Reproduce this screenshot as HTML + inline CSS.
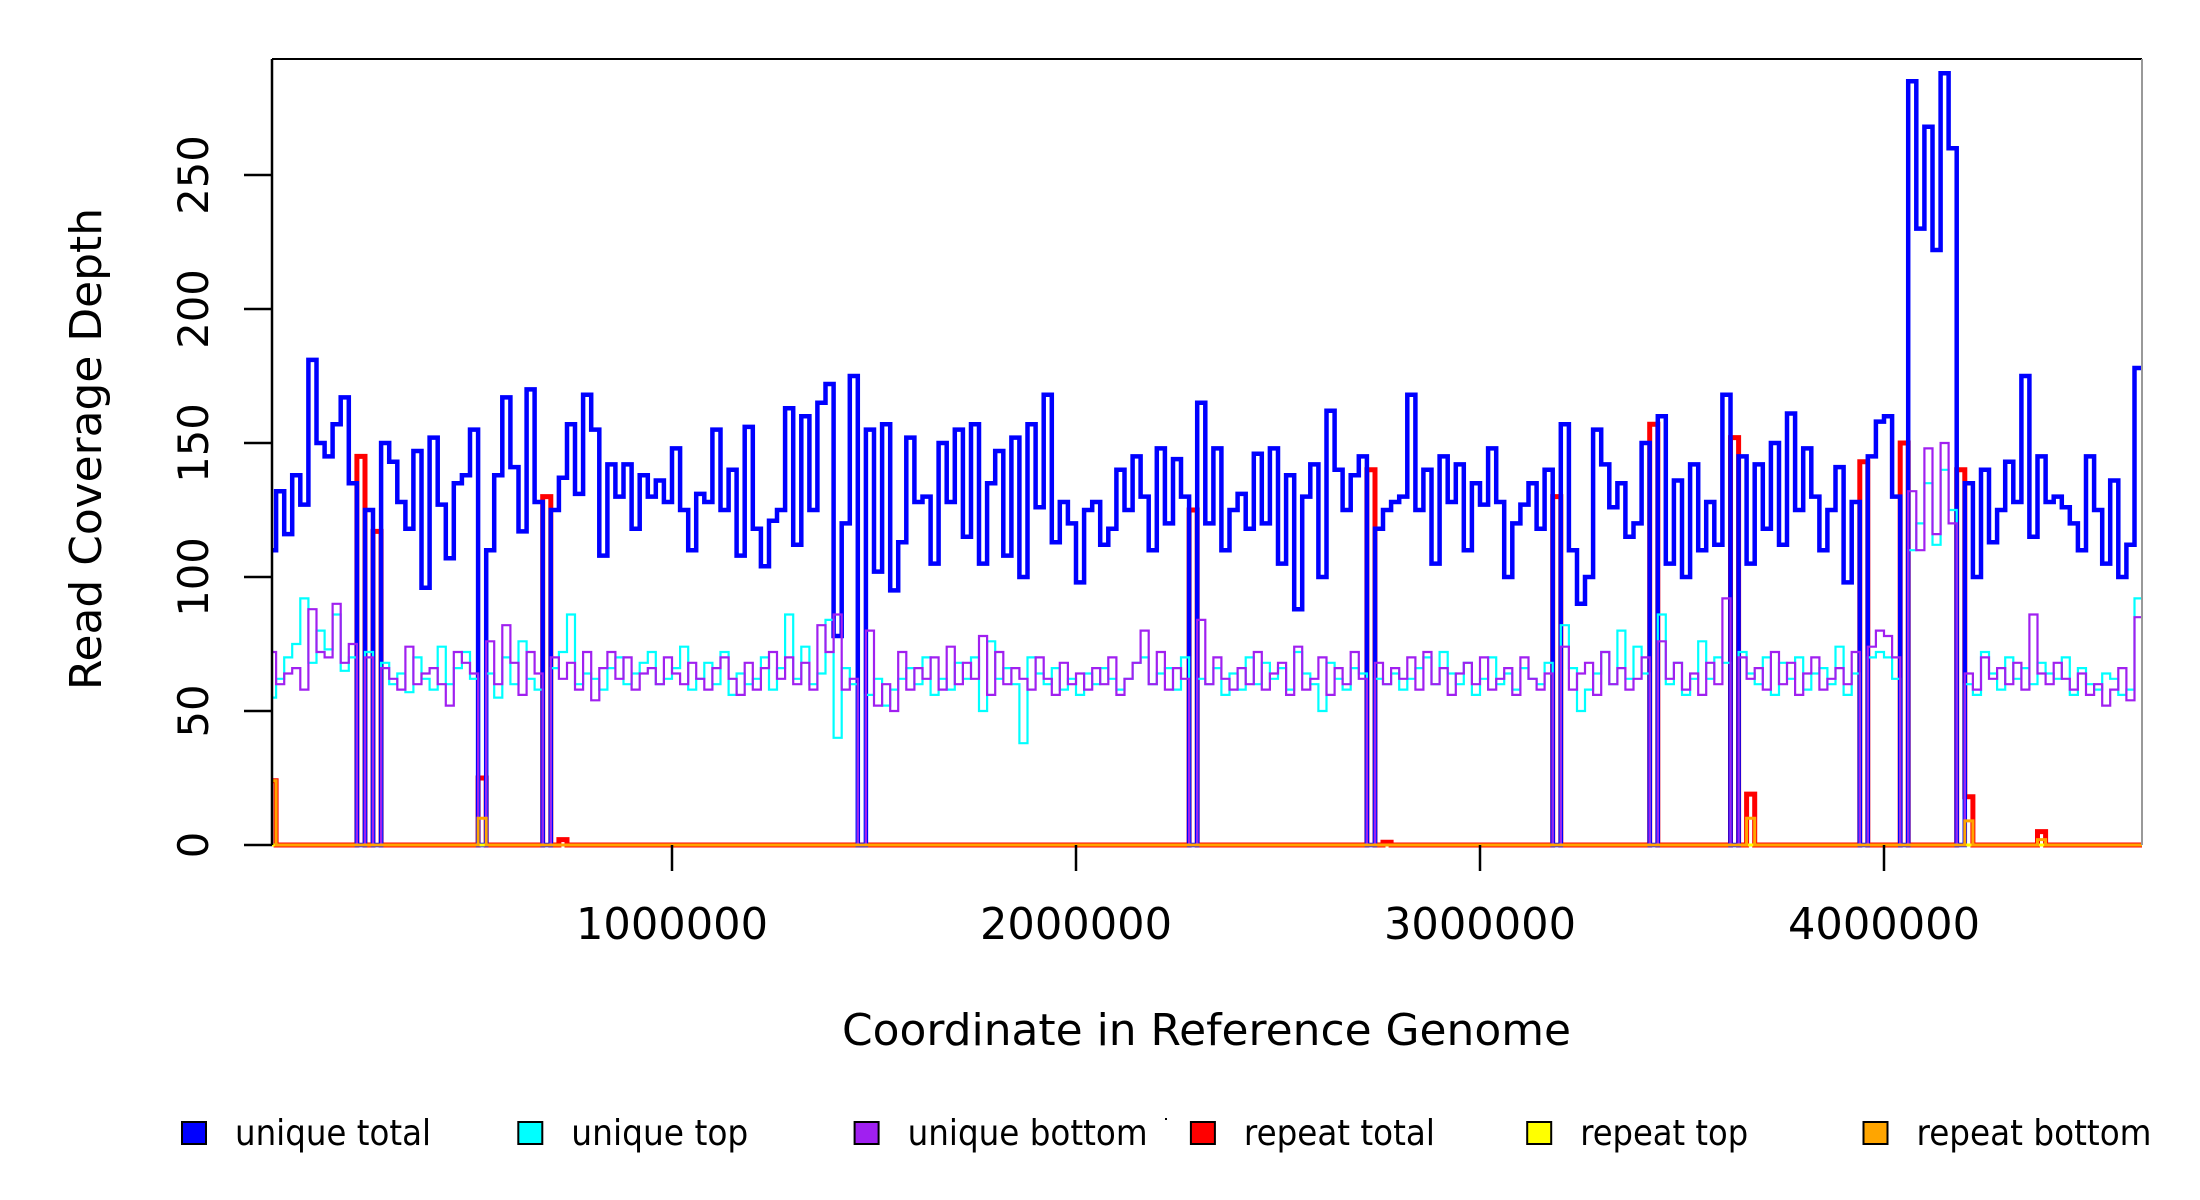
<!DOCTYPE html>
<html><head><meta charset="utf-8"><style>
html,body{margin:0;padding:0;background:#fff;}
svg{display:block;}
text{font-family:"DejaVu Sans","Liberation Sans",sans-serif;fill:#000;}
</style></head><body>
<svg id="chart" width="2200" height="1200" viewBox="0 0 2200 1200" xmlns="http://www.w3.org/2000/svg">
<g id="marks"></g>
<g id="axes"></g>
<g id="legend"></g>
</svg>
<script>
// ---- data (bin width 20000 bp) ----
const binSize = 20000;
const uniqueTotal = [
110,132,116,138,127,181,150,145,157,167,135,0,125,0,150,143,128,118,147,96,
152,127,107,135,138,155,0,110,138,167,141,117,170,128,0,125,137,157,131,168,
155,108,142,130,142,118,138,130,136,128,148,125,110,131,128,155,125,140,108,156,
118,104,121,125,163,112,160,125,165,172,78,120,175,0,155,102,157,95,113,152,
128,130,105,150,128,155,115,157,105,135,147,108,152,100,157,126,168,113,128,120,
98,125,128,112,118,140,125,145,130,110,148,120,144,130,0,165,120,148,110,125,
131,118,146,120,148,105,138,88,130,142,100,162,140,125,138,145,0,118,125,128,
130,168,125,140,105,145,128,142,110,135,127,148,128,100,120,127,135,118,140,0,
157,110,90,100,155,142,126,135,115,120,150,0,160,105,136,100,142,110,128,112,
168,0,145,105,142,118,150,112,161,125,148,130,110,125,141,98,128,0,145,158,
160,130,0,285,230,268,222,288,260,0,135,100,140,113,125,143,128,175,115,145,
128,130,126,120,110,145,125,105,136,100,112,178];
const uniqueTop = [
55,62,70,75,92,68,80,73,86,65,70,0,72,0,68,60,64,57,70,62,
58,74,60,66,72,62,0,64,55,70,60,76,62,58,0,66,72,86,60,64,
62,58,66,70,60,64,68,72,60,62,66,74,58,62,68,60,72,56,64,60,
62,70,58,66,86,62,74,60,64,84,40,66,60,0,56,62,52,58,62,66,
60,70,56,62,58,68,62,70,50,76,62,66,60,38,70,64,60,66,58,62,
56,64,60,66,62,58,62,68,70,60,64,66,58,70,0,62,60,66,56,64,
58,70,60,68,62,66,58,72,64,60,50,68,62,58,66,64,0,62,60,64,
58,62,66,70,60,72,64,60,68,56,62,70,60,64,58,66,62,60,68,0,
82,66,50,58,64,72,60,80,62,74,64,0,86,60,68,56,62,76,62,70,
68,0,72,64,60,70,56,68,62,70,58,64,66,60,74,56,64,0,70,72,
70,62,0,110,120,135,112,140,125,0,60,56,72,64,58,70,62,66,60,68,
64,62,70,56,66,60,58,64,62,56,58,92];
const uniqueBottom = [
72,60,64,66,58,88,72,70,90,68,75,0,70,0,66,62,58,74,60,64,
66,60,52,72,68,64,0,76,60,82,68,56,72,64,0,70,62,68,58,72,
54,66,72,62,70,58,64,66,60,70,64,60,68,62,58,66,70,62,56,68,
58,66,72,62,70,60,68,58,82,72,86,58,62,0,80,52,60,50,72,58,
66,62,70,58,74,60,68,62,78,56,72,60,66,62,58,70,62,56,68,60,
64,58,66,60,70,56,62,68,80,60,72,58,66,62,0,84,60,70,62,58,
66,60,72,58,64,68,56,74,58,62,70,56,66,60,72,62,0,68,60,66,
62,70,58,72,60,66,56,64,68,60,70,58,62,66,56,70,62,58,64,0,
74,58,64,68,56,72,60,66,58,62,70,0,76,62,68,58,64,56,68,60,
92,0,70,62,66,58,72,60,68,56,64,70,58,62,66,60,72,0,74,80,
78,70,0,132,110,148,116,150,120,0,64,58,70,62,66,60,68,58,86,64,
60,68,62,58,64,56,60,52,58,66,54,85];
// sparse repeat series: bin indices and values (all other bins are 0)
const repeatTotalBins = [0,11,13,26,34,36,114,136,138,159,171,181,183,197,202,209,210,219];
const repeatTotalVals = [24,145,117,25,130,2,125,140,1,130,157,152,19,143,150,140,18,5];
const repeatTopBins = [0];
const repeatTopVals = [0];
const repeatBottomBins = [0,26,183,210,219];
const repeatBottomVals = [24,10,10,9,2];
const yTicks = [0,50,100,150,200,250];
const xTicks = [1000000,2000000,3000000,4000000];
const xTickLabels = ["1000000","2000000","3000000","4000000"];
const legendLabels = ["unique total","unique top","unique bottom","repeat total","repeat top","repeat bottom"];
const legendColors = ["#0000ff","#00ffff","#a020f0","#ff0000","#ffff00","#ffa500"];

// ---- geometry ----
const NS = "http://www.w3.org/2000/svg";
const plotL = 272, plotR = 2142, plotT = 59, y0 = 845;
const xScale = x => 268 + x * 404e-6;
const yScale = v => y0 - v * 2.68;
const nBins = uniqueTotal.length;

function dense(bins, vals){ const a = new Array(nBins).fill(0); bins.forEach((b,i)=>{a[b]=vals[i];}); return a; }
function stepPath(vals){
  let d = "";
  vals.forEach((v,i)=>{
    const xa = Math.max(plotL, xScale(i*binSize)), xb = Math.min(plotR, xScale((i+1)*binSize));
    const y = yScale(v);
    d += (i===0 ? "M" : "L") + xa.toFixed(1) + "," + y.toFixed(1) + "L" + xb.toFixed(1) + "," + y.toFixed(1);
  });
  return d;
}
const marks = document.getElementById("marks");
function addSeries(vals, color, w, name){
  const p = document.createElementNS(NS,"path");
  p.setAttribute("d", stepPath(vals));
  p.setAttribute("fill","none");
  p.setAttribute("stroke",color);
  p.setAttribute("stroke-width",w);
  p.setAttribute("stroke-linejoin","miter");
  
  
  marks.appendChild(p);
}
addSeries(dense(repeatTotalBins,repeatTotalVals), "#ff0000", 5, "repeat-total-line");
addSeries(uniqueTotal, "#0000ff", 4.5, "unique-total-line");
addSeries(uniqueTop, "#00ffff", 2.2, "unique-top-line");
addSeries(uniqueBottom, "#a020f0", 2.2, "unique-bottom-line");
addSeries(dense(repeatTopBins,repeatTopVals), "#ffff00", 3, "repeat-top-line");
addSeries(dense(repeatBottomBins,repeatBottomVals), "#ffa500", 3, "repeat-bottom-line");

// ---- axes ----
const axes = document.getElementById("axes");
function line(x1,y1,x2,y2,c,w,name){
  const l = document.createElementNS(NS,"line");
  l.setAttribute("x1",x1);l.setAttribute("y1",y1);l.setAttribute("x2",x2);l.setAttribute("y2",y2);
  l.setAttribute("stroke",c);l.setAttribute("stroke-width",w);
  
  
  axes.appendChild(l);
}
function text(str,x,y,fs,len,rot,name,parent){
  const t = document.createElementNS(NS,"text");
  t.textContent = str;
  t.setAttribute("font-size",fs);
  t.setAttribute("text-anchor", rot ? "middle" : "start");
  if (len) { t.setAttribute("textLength",len); t.setAttribute("lengthAdjust","spacingAndGlyphs"); }
  if (rot) t.setAttribute("transform","translate("+x+","+y+") rotate(-90)");
  else { t.setAttribute("x",x); t.setAttribute("y",y); }
  
  
  (parent||axes).appendChild(t);
  return t;
}
line(plotL,plotT,plotR,plotT,"#000",2,"plot-top-border");
line(plotL,plotT,plotL,y0,"#000",2.5,"y-axis-line");
line(plotR,plotT,plotR,y0,"#999",2,"plot-right-border");
yTicks.forEach(v=>{
  line(244,yScale(v),plotL,yScale(v),"#000",2.5,"y-tick");
  const s = String(v);
  text(s,208,yScale(v),42,s.length*26.5,true,"y-tick-label");
});
xTicks.forEach((v,i)=>{
  line(xScale(v),y0,xScale(v),871,"#000",2.5,"x-tick");
  text(xTickLabels[i],xScale(v)-96,939,44,192,false,"x-tick-label");
});
text("Read Coverage Depth",101,449,44,482,true,"y-axis-title");
text("Coordinate in Reference Genome",842,1045,44,729,false,"x-axis-title");

// ---- legend ----
const legend = document.getElementById("legend");
const legendLens = [196,177,240,191,168,235];
legendLabels.forEach((lab,i)=>{
  const bx = 182 + i*336.3;
  const r = document.createElementNS(NS,"rect");
  r.setAttribute("x",bx);r.setAttribute("y",1122);r.setAttribute("width",24);r.setAttribute("height",22);
  r.setAttribute("fill",legendColors[i]);r.setAttribute("stroke","#000");r.setAttribute("stroke-width",2);
  
  
  legend.appendChild(r);
  text(lab,bx+53,1145,36,legendLens[i],false,"legend-label",legend);
});
const dot = document.createElementNS(NS,"rect");
dot.setAttribute("x",1165);dot.setAttribute("y",1118);dot.setAttribute("width",2);dot.setAttribute("height",2);dot.setAttribute("fill","#000");


legend.appendChild(dot);
</script>
</body></html>
